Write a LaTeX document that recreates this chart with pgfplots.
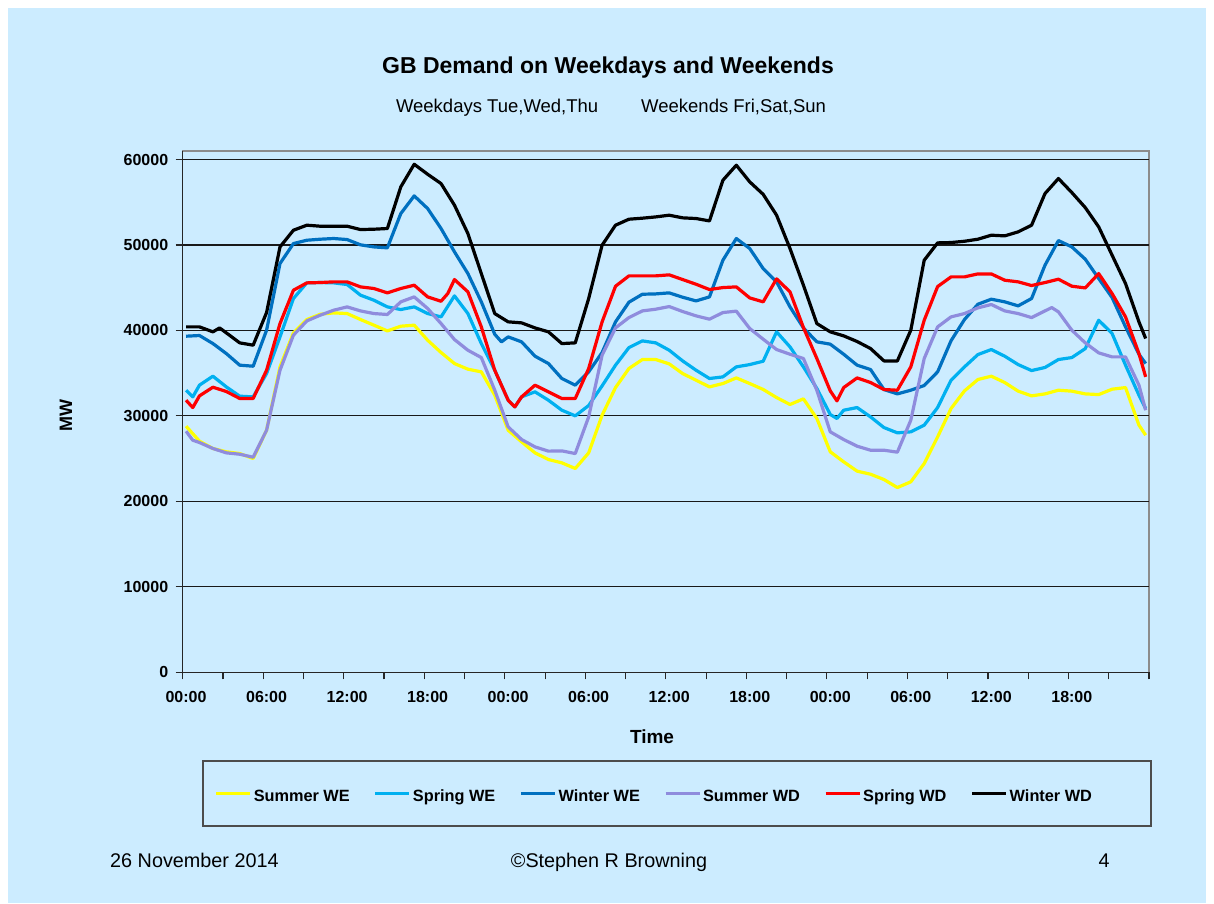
\documentclass[border=0pt]{standalone}
\usepackage{fontspec}
\setmainfont{Liberation Sans}
\usepackage{pgfplots}
\pgfplotsset{compat=1.18}

\definecolor{bg}{RGB}{204,236,255}
\definecolor{sumwe}{RGB}{255,255,0}
\definecolor{sprwe}{RGB}{0,176,240}
\definecolor{winwe}{RGB}{0,112,192}
\definecolor{sumwd}{RGB}{143,140,221}
\definecolor{sprwd}{RGB}{255,0,0}
\definecolor{winwd}{RGB}{0,0,0}

\newcommand\fs[1]{\fontsize{#1}{#1}\selectfont}

\begin{document}
\begin{tikzpicture}[x=1pt,y=1pt]
% slide background
\fill[white] (0,0) rectangle (1214,-903);
\fill[bg] (8,-8) rectangle (1206,-903);
% plot area frame (top and right sides show in grey)
\draw[black!45, line width=1.2] (182.7,-151) rectangle (1149,-672.3);

\node[font=\fs{23}\bfseries] at (608,-68) {GB Demand on Weekdays and Weekends};
\node[font=\fs{18.5}, anchor=base] at (611,-112) {Weekdays Tue,Wed,Thu\hspace{43pt}Weekends Fri,Sat,Sun};

% legend frame
\draw[black!70, line width=1.2] (203,-761) rectangle (1151,-826);

% footer
\node[font=\fs{19.8}, anchor=base west, inner sep=0pt] at (110,-867) {26 November 2014};
\node[font=\fs{19.8}, anchor=base, inner sep=0pt] at (609,-867) {©Stephen R Browning};
\node[font=\fs{19.8}, anchor=base, inner sep=0pt] at (1104,-867) {4};

\begin{axis}[
    at={(182.7pt,-672.3pt)}, anchor=south west,
    scale only axis,
    width=966.3pt, height=521.3pt,
    xmin=-0.5, xmax=143.5,
    ymin=0, ymax=61000,
    axis x line*=bottom, axis y line*=left,
    axis line style={black!85, line width=1.3pt, -},
    tick align=outside,
    major tick length=7pt,
    minor tick length=7pt,
    tick style={black!85, line width=1.1pt},
    xtick={-0.5,11.5,...,143.5},
    xticklabels={00:00,06:00,12:00,18:00,00:00,06:00,12:00,18:00,00:00,06:00,12:00,18:00,},
    xticklabel style={xshift=3.35pt, yshift=-8pt},
    minor xtick={5.5,17.5,...,137.5},
    ytick={0,10000,...,60000},
    yticklabels={0,10000,20000,30000,40000,50000,60000},
    yticklabel style={xshift=-4pt},
    scaled y ticks=false,
    ticklabel style={font=\fs{16}\bfseries},
    ymajorgrids,
    major grid style={black!90, line width=1.1pt},
    xlabel={Time},
    ylabel={MW},
    every axis x label/.style={at={(axis description cs:0.4857,-0.1241)}, anchor=center, font=\fs{19}\bfseries},
    every axis y label/.style={at={(axis description cs:-0.1208,0.4917)}, anchor=center, rotate=90, font=\fs{18}\bfseries},
    every axis plot/.append style={line width=3.2pt, line join=round, mark=none},
    legend columns=6,
    legend style={at={(0.488,-0.2395)}, anchor=center, draw=none, fill=none,
        font=\fs{16.3}\bfseries,
        nodes={text height=12pt, text depth=4pt},
        /tikz/every even column/.append style={column sep=22pt}},
    legend image code/.code={\draw[#1] (0pt,4pt) -- (34pt,4pt);},
]

% Summer WE
\addplot[sumwe] coordinates {
(0,28800) (2,27050) (4,26190) (6,25800) (8,25600) (10,25020) (12,28330) (14,35740)
(16,39720) (18,41280) (20,41900) (22,42060) (24,41980) (26,41280) (28,40620) (30,39950)
(32,40500) (34,40620) (36,38860) (38,37420) (40,36130) (42,35470) (44,35160) (46,32430)
(48,28330) (50,26970) (52,25680) (54,24900) (56,24510) (58,23850) (60,25680) (62,30090)
(64,33320) (66,35550) (68,36600) (70,36600) (72,36090) (74,34960) (76,34180) (78,33400)
(80,33790) (82,34450) (84,33790) (86,33100) (88,32150) (90,31340) (92,32000) (94,29700)
(96,25800) (98,24630) (100,23540) (102,23180) (104,22560) (106,21620) (108,22290) (110,24430)
(112,27550) (114,30870) (116,32930) (118,34260) (120,34650) (122,33910) (124,32900) (126,32350)
(128,32580) (130,33010) (132,32900) (134,32580) (136,32500) (138,33130) (140,33320) (142,28920)
(143,27750)
};
\addlegendentry{Summer WE}

% Spring WE
\addplot[sprwe] coordinates {
(0,33010) (1,32230) (2,33600) (4,34650) (6,33400) (8,32310) (10,32230) (12,34960)
(14,39250) (16,43740) (18,45570) (20,45610) (22,45570) (24,45380) (26,44130) (28,43540)
(30,42760) (32,42450) (34,42760) (36,41980) (38,41590) (40,44050) (42,41980) (44,38470)
(46,35350) (48,31840) (49,31060) (50,32230) (52,32820) (54,31840) (56,30670) (58,30010)
(60,31220) (62,33520) (64,35940) (66,38000) (68,38780) (70,38550) (72,37690) (74,36440)
(76,35350) (78,34380) (80,34570) (82,35740) (84,36010) (86,36400) (88,39840) (90,38080)
(92,35740) (94,33210) (96,30170) (97,29700) (98,30670) (100,30980) (102,29890) (104,28640)
(106,28020) (108,28140) (110,28920) (112,30980) (114,34180) (116,35740) (118,37180) (120,37770)
(122,36990) (124,36010) (126,35310) (128,35670) (130,36600) (132,36830) (134,37880) (136,41200)
(138,39640) (140,35940) (142,32430) (143,30870)
};
\addlegendentry{Spring WE}

% Winter WE
\addplot[winwe] coordinates {
(0,39330) (2,39410) (4,38470) (6,37300) (8,35940) (10,35820) (12,40030) (14,47830)
(16,50170) (18,50560) (20,50680) (22,50760) (24,50640) (26,50020) (28,49780) (30,49670)
(32,53680) (34,55750) (36,54270) (38,51930) (40,49200) (42,46660) (44,43350) (46,39560)
(47,38670) (48,39250) (50,38670) (52,36990) (54,36130) (56,34380) (58,33600) (60,35160)
(62,37420) (64,41010) (66,43310) (68,44240) (70,44280) (72,44400) (74,43890) (76,43460)
(78,43930) (80,48220) (82,50760) (84,49590) (86,47250) (88,45690) (90,42760) (92,40300)
(94,38670) (96,38400) (98,37220) (100,35940) (102,35430) (104,33090) (106,32580) (108,33010)
(110,33560) (112,35160) (114,38800) (116,41280) (118,43070) (120,43660) (122,43350) (124,42880)
(126,43740) (128,47640) (130,50520) (132,49780) (134,48340) (136,46080) (138,43850) (140,40420)
(142,37220) (143,36130)
};
\addlegendentry{Winter WE}

% Summer WD
\addplot[sumwd] coordinates {
(0,28210) (1,27160) (2,26890) (4,26190) (6,25680) (8,25520) (10,25170) (12,28330)
(14,35350) (16,39450) (18,41120) (20,41790) (22,42370) (24,42760) (26,42290) (28,41980)
(30,41870) (32,43350) (34,43930) (36,42570) (38,40810) (40,38940) (42,37690) (44,36830)
(46,33010) (48,28720) (50,27240) (52,26380) (54,25880) (56,25910) (58,25600) (60,29890)
(62,37110) (64,40310) (66,41510) (68,42290) (70,42490) (72,42800) (74,42220) (76,41710)
(78,41320) (80,42100) (82,42260) (84,40230) (86,38980) (88,37770) (90,37220) (92,36720)
(94,33010) (96,28140) (98,27240) (100,26460) (102,25990) (104,25990) (106,25760) (108,29500)
(110,36720) (112,40420) (114,41590) (116,41980) (118,42650) (120,43040) (122,42290) (124,41980)
(126,41510) (128,42290) (129,42680) (130,42180) (132,40030) (134,38550) (136,37380) (138,36910)
(140,36910) (142,33600) (143,30670)
};
\addlegendentry{Summer WD}

% Spring WD
\addplot[sprwd] coordinates {
(0,31840) (1,30980) (2,32350) (4,33360) (6,32860) (8,32040) (10,32040) (12,35350)
(14,40810) (16,44710) (18,45570) (20,45610) (22,45690) (24,45690) (26,45100) (28,44910)
(30,44400) (32,44910) (34,45300) (36,43930) (38,43420) (39,44320) (40,45960) (42,44520)
(44,40420) (46,35350) (48,31840) (49,31060) (50,32230) (52,33600) (54,32820) (56,32040)
(58,32040) (60,35550) (62,41010) (64,45180) (66,46390) (68,46390) (70,46390) (72,46510)
(74,45960) (76,45410) (78,44790) (80,45020) (82,45100) (84,43810) (86,43350) (88,46040)
(90,44520) (92,40340) (94,36720) (96,32930) (97,31760) (98,33320) (100,34450) (102,33910)
(104,33090) (106,33010) (108,35740) (110,41200) (112,45140) (114,46270) (116,46270) (118,46620)
(120,46620) (122,45880) (124,45690) (126,45260) (128,45610) (130,46000) (132,45180) (134,44980)
(136,46660) (138,44320) (140,41590) (142,37300) (143,34570)
};
\addlegendentry{Spring WD}

% Winter WD
\addplot[winwd] coordinates {
(0,40420) (2,40420) (4,39840) (5,40300) (6,39720) (8,38550) (10,38280) (12,42100)
(14,49780) (16,51730) (18,52320) (20,52200) (22,52200) (24,52200) (26,51810) (28,51850)
(30,51930) (32,56800) (34,59450) (36,58280) (38,57190) (40,54660) (42,51340) (44,46660)
(46,41980) (48,41010) (50,40890) (52,40300) (54,39840) (56,38470) (58,38550) (60,43740)
(62,49980) (64,52320) (66,53020) (68,53140) (70,53290) (72,53490) (74,53180) (76,53100)
(78,52820) (80,57580) (82,59340) (84,57390) (86,55930) (88,53490) (90,49590) (92,45300)
(94,40810) (96,39840) (98,39370) (100,38710) (102,37890) (104,36440) (106,36440) (108,40030)
(110,48220) (112,50250) (114,50290) (116,50440) (118,50680) (120,51150) (122,51070) (124,51540)
(126,52320) (128,56020) (130,57780) (132,56140) (134,54380) (136,52120) (138,48810) (140,45490)
(142,41010) (143,39060)
};
\addlegendentry{Winter WD}

\end{axis}
\end{tikzpicture}
\end{document}
